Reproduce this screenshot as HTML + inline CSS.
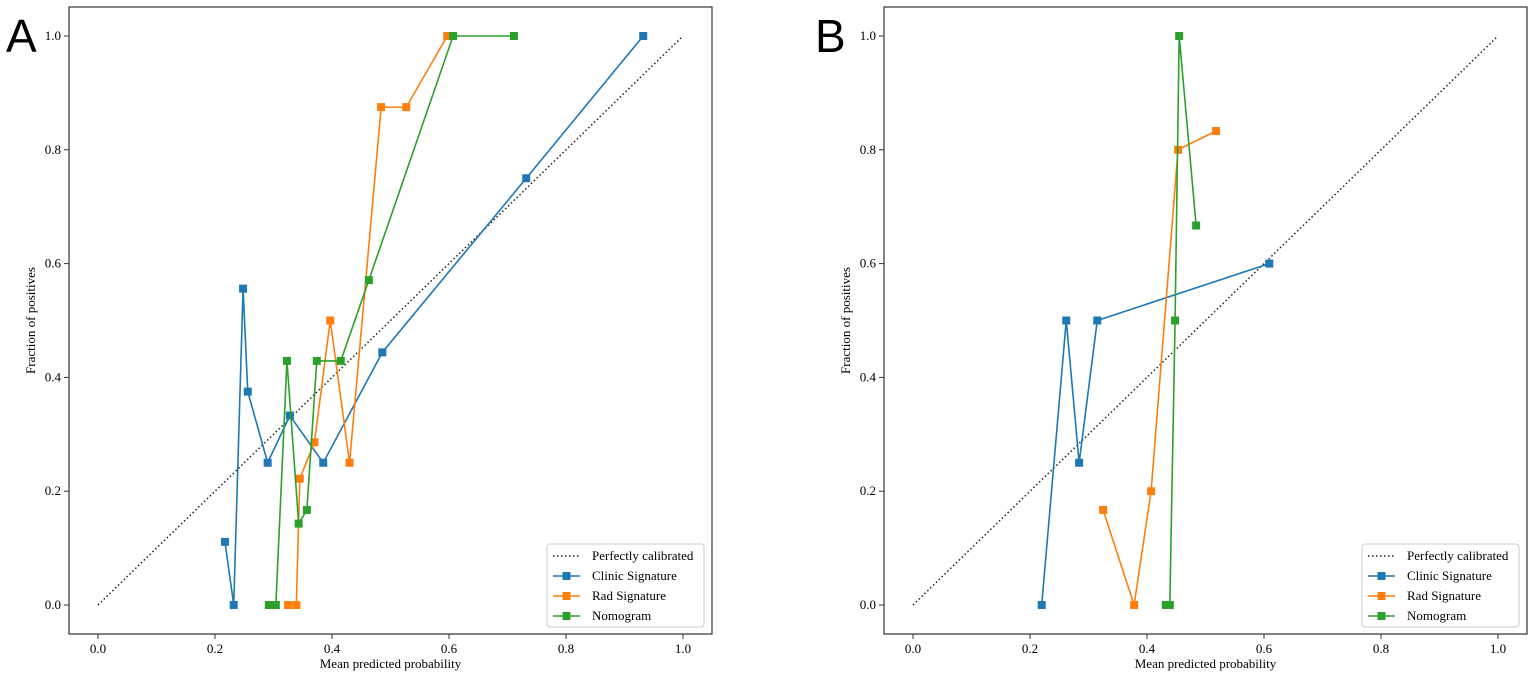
<!DOCTYPE html>
<html><head><meta charset="utf-8"><style>body{margin:0;background:#fff}svg{display:block}</style></head>
<body>
<svg id="s" width="1535" height="680" xmlns="http://www.w3.org/2000/svg" font-family="Liberation Serif, serif" font-size="13">
<text x="6" y="52" font-family="Liberation Sans, sans-serif" font-size="46">A</text>
<text x="815" y="52" font-family="Liberation Sans, sans-serif" font-size="46">B</text>
</svg>
<script>
const s=document.getElementById('s');const NS='http://www.w3.org/2000/svg';
function el(t,a,txt){const e=document.createElementNS(NS,t);for(const k in a)e.setAttribute(k,a[k]);if(txt!=null)e.textContent=txt;s.appendChild(e);return e;}
const C={b:'#1f77b4',o:'#ff7f0e',g:'#2ca02c'};
function panel(L,R,x0,data){
 const T=7,B=634,y0=605,ys=569,xs=585;
 const X=v=>x0+v*xs,Y=v=>y0-v*ys;
 el('rect',{x:L,y:T,width:R-L,height:B-T,fill:'none',stroke:'#333','stroke-width':1.2});
 for(let i=0;i<=5;i++){const v=i*0.2;
  el('line',{x1:X(v),x2:X(v),y1:B,y2:B+5,stroke:'#333'});
  el('text',{x:X(v),y:B+19,'text-anchor':'middle'},v.toFixed(1));
  el('line',{x1:L-5,x2:L,y1:Y(v),y2:Y(v),stroke:'#333'});
  el('text',{x:L-8,y:Y(v)+4,'text-anchor':'end'},v.toFixed(1));}
 el('text',{x:(L+R)/2,y:B+34,'text-anchor':'middle'},'Mean predicted probability');
 const lx=L-34,ly=(T+B)/2;
 el('text',{x:lx,y:ly,'text-anchor':'middle',transform:`rotate(-90 ${lx} ${ly})`},'Fraction of positives');
 el('line',{x1:X(0),y1:Y(0),x2:X(1),y2:Y(1),stroke:'#222','stroke-width':1.5,'stroke-dasharray':'1.5,2.5'});
 for(const [c,pts] of data){
  el('polyline',{points:pts.map(p=>X(p[0])+','+Y(p[1])).join(' '),fill:'none',stroke:C[c],'stroke-width':1.6});
  for(const p of pts)el('rect',{x:X(p[0])-4,y:Y(p[1])-4,width:8,height:8,fill:C[c]});}
 const bx=R-165,by=544;
 el('rect',{x:bx,y:by,width:157,height:83,rx:3,fill:'#fff',stroke:'#ccc'});
 el('line',{x1:bx+6,x2:bx+33,y1:by+12,y2:by+12,stroke:'#222','stroke-width':1.5,'stroke-dasharray':'1.5,2.5'});
 el('text',{x:bx+45,y:by+16},'Perfectly calibrated');
 [['b','Clinic Signature'],['o','Rad Signature'],['g','Nomogram']].forEach((d,i)=>{const yy=by+32+i*20;
  el('line',{x1:bx+6,x2:bx+33,y1:yy,y2:yy,stroke:C[d[0]],'stroke-width':1.6});
  el('rect',{x:bx+15.5,y:yy-4,width:8,height:8,fill:C[d[0]]});
  el('text',{x:bx+45,y:yy+4},d[1]);});
}
panel(69,712,98,[
 ['b',[[0.217,0.111],[0.232,0],[0.248,0.556],[0.256,0.375],[0.29,0.25],[0.328,0.333],[0.385,0.25],[0.486,0.444],[0.732,0.75],[0.932,1]]],
 ['o',[[0.325,0],[0.339,0],[0.345,0.222],[0.37,0.286],[0.397,0.5],[0.43,0.25],[0.484,0.875],[0.527,0.875],[0.597,1]]],
 ['g',[[0.292,0],[0.304,0],[0.323,0.429],[0.343,0.143],[0.357,0.167],[0.374,0.429],[0.415,0.429],[0.463,0.571],[0.607,1],[0.711,1]]]
]);
panel(884,1527,913,[
 ['b',[[0.22,0],[0.262,0.5],[0.284,0.25],[0.315,0.5],[0.609,0.6]]],
 ['o',[[0.325,0.167],[0.378,0],[0.407,0.2],[0.453,0.8],[0.518,0.833]]],
 ['g',[[0.432,0],[0.439,0],[0.448,0.5],[0.455,1],[0.484,0.667]]]
]);
</script>
</body></html>
